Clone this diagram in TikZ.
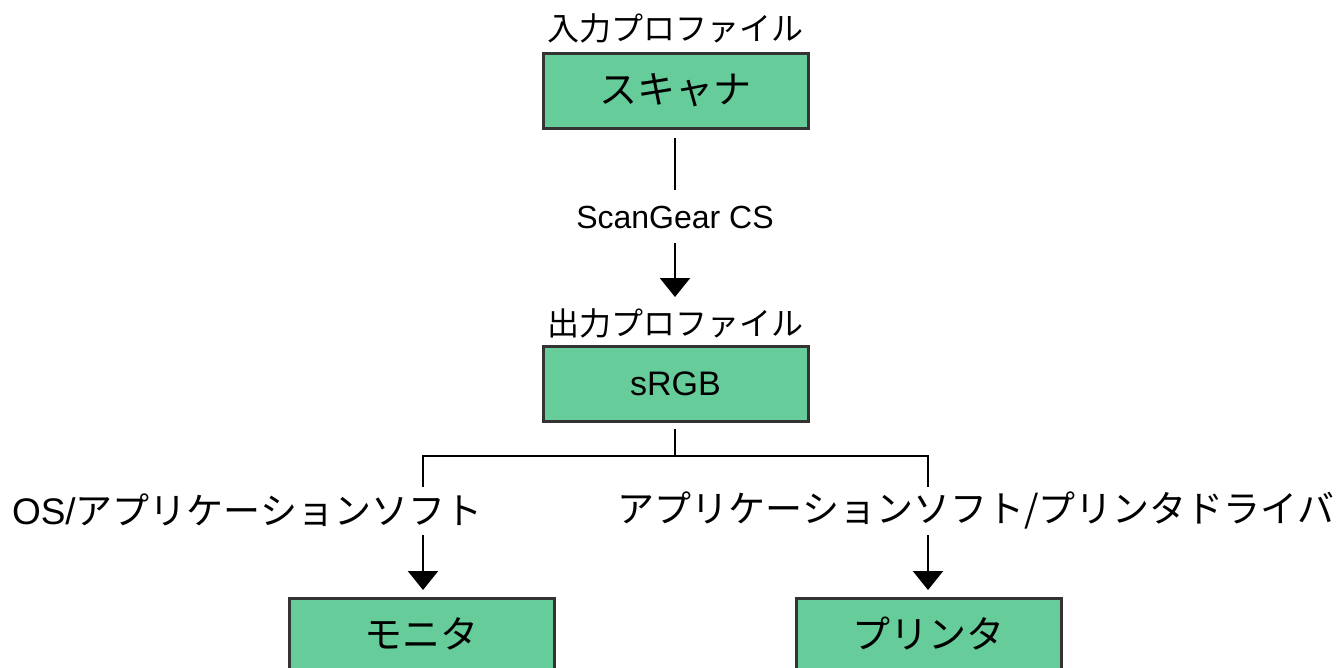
\documentclass[tikz,border=0pt]{standalone}
\usepackage{fontspec}
\setmainfont{Liberation Sans}
\newfontfamily\jp{Noto Sans CJK JP}
\usetikzlibrary{arrows.meta}
\definecolor{boxgreen}{HTML}{66CC99}
\definecolor{boxedge}{HTML}{333333}
\tikzset{
  box/.style={draw=boxedge, line width=3pt, fill=boxgreen, minimum width=265pt, minimum height=75pt, inner sep=0pt, font=\fontsize{38}{40}\selectfont\jp},
  boxlatin/.style={box, font=\fontsize{34}{36}\selectfont},
  captext/.style={inner sep=0pt, font=\fontsize{32}{34}\selectfont\jp},
  lbl/.style={inner sep=0pt, font=\fontsize{32}{34}\selectfont},
  side/.style={inner sep=0pt, font=\fontsize{37}{39}\selectfont},
  boxtext/.style={inner sep=0pt, font=\fontsize{38}{40}\selectfont\jp},
  conn/.style={draw=black, line width=2.3pt},
  arr/.style={conn, -{Triangle[width=30pt,length=19pt]}},
}
\begin{document}
\begin{tikzpicture}[x=1pt,y=-1pt]
\useasboundingbox (0,0) rectangle (1339,667);
\clip (0,0) rectangle (1339,667);
% boxes
\node[box] (sc) at (675.5,90.5) {スキャナ};
\node[boxlatin] (srgb) at (675.5,384) {sRGB};
\node[box, anchor=north] (mon) at (421.5,597) {};
\node[box, anchor=north] (prn) at (928.5,597) {};
\node[boxtext] (montxt) at (421.5,634) {モニタ};
\node[boxtext] (prntxt) at (928.5,634) {プリンタ};
% captions
\node[captext] (incap) at (675,28) {入力プロファイル};
\node[captext] (outcap) at (675,323) {出力プロファイル};
\node[lbl] (scg) at (675,217) {ScanGear CS};
\node[side] (lab1) at (247,510) {OS/{\jp アプリケーションソフト}};
\node[side] (lab2) at (976,510) {\jp アプリケーションソフト/プリンタドライバ};
% connector coordinates
\coordinate (s1) at (675,138);
\coordinate (s2) at (675,190);
\coordinate (s3) at (675,243);
\coordinate (s4) at (675,297);
\coordinate (r1) at (675,429);
\coordinate (j) at (675,456);
\coordinate (l1) at (423,456);
\coordinate (l2) at (423,486);
\coordinate (l3) at (423,535);
\coordinate (l4) at (423,590);
\coordinate (p1) at (928,456);
\coordinate (p2) at (928,486);
\coordinate (p3) at (928,535);
\coordinate (p4) at (928,590);
\draw[conn] (s1) -- (s2);
\draw[arr] (s3) -- (s4);
\draw[conn] (r1) -- (j);
\draw[conn, line cap=rect] (l2) -- (l1) -- (p1) -- (p2);
\draw[arr] (l3) -- (l4);
\draw[arr] (p3) -- (p4);
\end{tikzpicture}
\end{document}
